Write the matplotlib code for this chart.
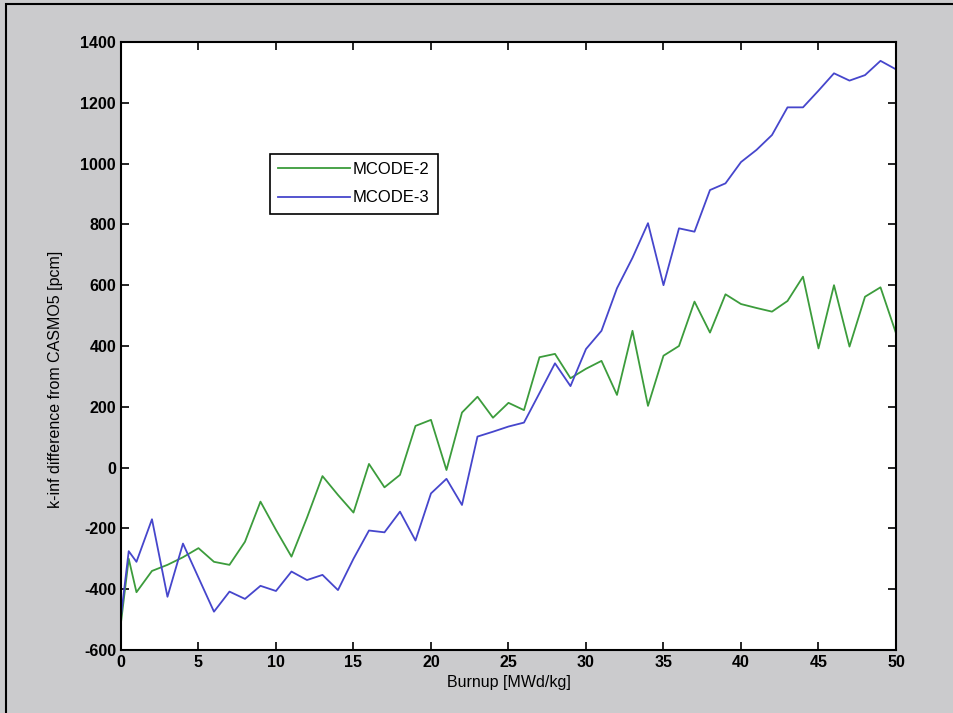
import matplotlib
matplotlib.use('Agg')
import matplotlib.pyplot as plt
from matplotlib.patches import Rectangle

plt.rcParams['font.family'] = ['Liberation Sans', 'DejaVu Sans']
plt.rcParams['axes.unicode_minus'] = False

# burnup points [MWd/kg]
burnup = [0, 0.5, 1, 2, 3, 4, 5, 6, 7, 8, 9, 10, 11, 12, 13, 14, 15, 16, 17, 18, 19, 20,
          21, 22, 23, 24, 25, 26, 27, 28, 29, 30, 31, 32, 33, 34, 35, 36, 37, 38, 39, 40,
          41, 42, 43, 44, 45, 46, 47, 48, 49, 50]

# k-inf difference from CASMO5 [pcm]
mcode2 = [-510, -300, -410, -340, -320, -295, -265, -310, -320, -244, -112, -205, -293, -165,
          -28, -90, -148, 12, -65, -24, 137, 157, -8, 181, 233, 164, 213, 189, 363, 374,
          294, 325, 351, 239, 450, 203, 368, 400, 546, 444, 570, 538, 525, 513, 548, 628,
          392, 600, 398, 562, 593, 442]
mcode3 = [-490, -275, -310, -170, -425, -250, -362, -474, -408, -432, -389, -406, -342, -370,
          -353, -403, -300, -207, -213, -145, -240, -85, -37, -123, 102, 118, 135, 148, 245,
          343, 268, 390, 450, 590, 690, 804, 600, 787, 776, 913, 935, 1005, 1045, 1094,
          1185, 1185, 1240, 1297, 1273, 1291, 1338, 1310]

fig = plt.figure(figsize=(9.54, 7.13), dpi=100)
fig.patch.set_facecolor('#cbcbcd')
fig.patches.append(Rectangle((0.006, -0.1), 1.2, 1.094, transform=fig.transFigure,
                             fill=False, edgecolor='black', linewidth=1.5))

ax = fig.add_axes([0.1268, 0.0884, 0.8124, 0.8527])
ax.set_facecolor('white')
ax.plot(burnup, mcode2, color='#3c9c3c', linewidth=1.3, label='MCODE-2')
ax.plot(burnup, mcode3, color='#4646cc', linewidth=1.3, label='MCODE-3')

ax.set_xlim(0, 50)
ax.set_ylim(-600, 1400)
ax.set_xticks(range(0, 51, 5))
ax.set_yticks(range(-600, 1401, 200))
ax.tick_params(direction='in', top=True, right=True, length=6, width=1.2, labelsize=11.5)
for lab in ax.get_xticklabels() + ax.get_yticklabels():
    lab.set_fontweight('bold')
for sp in ax.spines.values():
    sp.set_linewidth(1.5)

ax.set_xlabel('Burnup [MWd/kg]', fontsize=11.5)
ax.set_ylabel('k-inf difference from CASMO5 [pcm]', fontsize=11.5)
ax.yaxis.set_label_coords(-0.075, 0.445)

leg = ax.legend(loc='upper left', bbox_to_anchor=(0.181, 0.83), fontsize=12,
                fancybox=False, framealpha=1, edgecolor='black', borderpad=0.5,
                handlelength=4.3, handletextpad=0.2, labelspacing=0.8)
leg.get_frame().set_linewidth(1.2)

plt.savefig('out.png', dpi=100, facecolor=fig.get_facecolor())
